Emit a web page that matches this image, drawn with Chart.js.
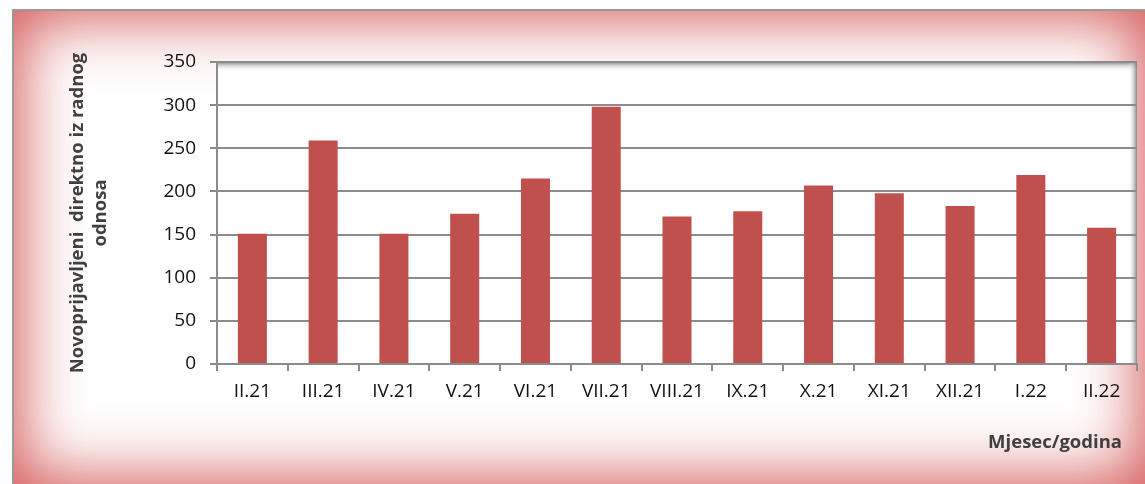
<!DOCTYPE html>
<html>
<head>
<meta charset="utf-8">
<script src="https://cdn.jsdelivr.net/npm/chart.js@4.4.1/dist/chart.umd.min.js"></script>
<style>
  html, body { margin: 0; padding: 0; background: #fff; overflow: hidden; }
  #wrap { position: relative; width: 1145px; height: 484px; }
  #frame {
    position: absolute; left: 12px; top: 9px; width: 1136px; height: 478px;
    border: 2px solid #9a9a9a; box-sizing: border-box;
    box-shadow: inset 0 0 62px 8px rgba(208, 70, 70, 0.9);
  }
  #chart { position: absolute; left: 0; top: 0; }
</style>
</head>
<body>
<div id="wrap">
  <div id="frame"></div>
  <canvas id="chart" width="1145" height="484"></canvas>
</div>
<script>
// monthly values
const months = ['II.21', 'III.21', 'IV.21', 'V.21', 'VI.21', 'VII.21', 'VIII.21',
  'IX.21', 'X.21', 'XI.21', 'XII.21', 'I.22', 'II.22'];
const newlyRegistered = [151, 259, 151, 174, 215, 298, 171, 177, 207, 198, 183, 219, 158];
const yTitle = ['Novoprijavljeni  direktno iz radnog', 'odnosa'];
const xTitle = 'Mjesec/godina';

const gridGray = '#8c8c8c';
const fontFamily = '"Open Sans"';

// white plot area with the soft grey shadow on top and right
const plotArea = {
  id: 'plotArea',
  beforeDraw(chart) {
    const { ctx, chartArea: a } = chart;
    ctx.save();
    ctx.fillStyle = '#fff';
    ctx.fillRect(a.left, a.top, a.right - a.left, a.bottom - a.top);
    let g = ctx.createLinearGradient(0, a.top, 0, a.top + 9);
    g.addColorStop(0, 'rgba(120,120,120,0.9)');
    g.addColorStop(1, 'rgba(255,255,255,0)');
    ctx.fillStyle = g;
    ctx.fillRect(a.left, a.top, a.right - a.left, 9);
    g = ctx.createLinearGradient(a.right, 0, a.right - 9, 0);
    g.addColorStop(0, 'rgba(120,120,120,0.9)');
    g.addColorStop(1, 'rgba(255,255,255,0)');
    ctx.fillStyle = g;
    ctx.fillRect(a.right - 9, a.top, 9, a.bottom - a.top);
    ctx.restore();
  },
  afterDraw(chart) {
    const { ctx } = chart;
    ctx.save();
    ctx.font = 'bold 18.5px ' + fontFamily;
    ctx.fillStyle = '#404040';
    ctx.textAlign = 'right';
    ctx.textBaseline = 'middle';
    ctx.fillText(xTitle, 1122, 443);
    ctx.restore();
  }
};

new Chart(document.getElementById('chart'), {
  type: 'bar',
  data: {
    labels: months,
    datasets: [{
      data: newlyRegistered,
      backgroundColor: '#C0504D',
      categoryPercentage: 1,
      barPercentage: 0.41
    }]
  },
  options: {
    responsive: false,
    animation: false,
    layout: { padding: { left: 0, top: 62, right: 8, bottom: 0 } },
    plugins: { legend: { display: false }, tooltip: { enabled: false } },
    scales: {
      x: {
        grid: { offset: true, drawOnChartArea: false, drawTicks: true, tickLength: 7, color: gridGray, lineWidth: 2 },
        border: { color: gridGray, width: 2 },
        ticks: { font: { family: fontFamily, size: 19 }, color: '#111', padding: 9, maxRotation: 0 },
        afterFit(scale) { scale.height = 120; }
      },
      y: {
        min: 0,
        max: 350,
        ticks: { stepSize: 50, font: { family: fontFamily, size: 19 }, color: '#111', padding: 14 },
        grid: { color: gridGray, lineWidth: 2, tickLength: 7 },
        border: { color: gridGray, width: 2 },
        title: {
          display: true,
          text: yTitle,
          font: { family: fontFamily, size: 18.5, weight: 'bold', lineHeight: 1.2 },
          color: '#404040',
          padding: { top: 67, bottom: 0 }
        },
        afterFit(scale) { scale.width = 217; }
      }
    }
  },
  plugins: [plotArea]
});
</script>
</body>
</html>
